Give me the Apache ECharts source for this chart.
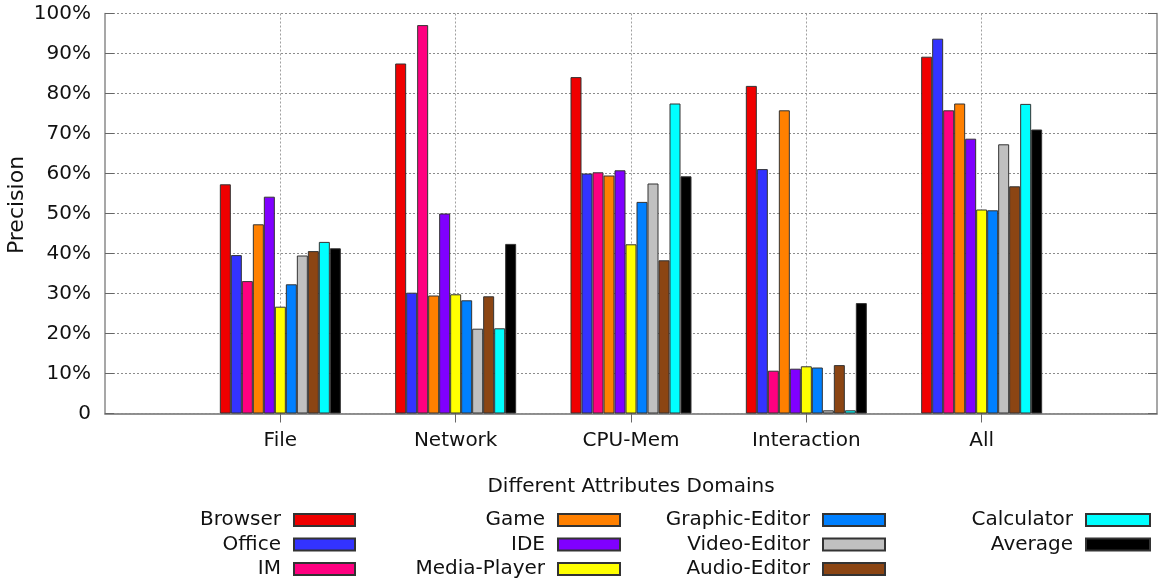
<!DOCTYPE html>
<html>
<head>
<meta charset="utf-8">
<script src="https://cdn.jsdelivr.net/npm/echarts@6/dist/echarts.min.js"></script>
<style>
  html, body { margin: 0; padding: 0; background: #fff; }
  #chart { width: 1160px; height: 583px; }
</style>
</head>
<body>
<div id="chart"></div>
<script>
// Attribute domains on the x axis
const domains = ['File', 'Network', 'CPU-Mem', 'Interaction', 'All'];

// Application groups, in legend order
const seriesNames = ['Browser', 'Office', 'IM', 'Game', 'IDE', 'Media-Player',
  'Graphic-Editor', 'Video-Editor', 'Audio-Editor', 'Calculator', 'Average'];
const seriesColors = ['#f00000', '#3333ff', '#ff0080', '#ff8000', '#8000ff', '#ffff00',
  '#0080ff', '#c0c0c0', '#8b4513', '#00ffff', '#000000'];

// Precision (%) per domain: File, Network, CPU-Mem, Interaction, All
const browser       = [57.3, 87.5, 84.1, 81.9, 89.2];
const office        = [39.6, 30.2, 60.0, 61.1, 93.7];
const im            = [33.1, 97.1, 60.3, 10.7, 75.8];
const game          = [47.3, 29.5, 59.5, 75.8, 77.5];
const ide           = [54.2, 50.0, 60.8, 11.2, 68.7];
const mediaPlayer   = [26.7, 29.8, 42.3, 11.8, 51.0];
const graphicEditor = [32.3, 28.3, 52.9, 11.5, 50.8];
const videoEditor   = [39.5, 21.2, 57.5, 0.8, 67.3];
const audioEditor   = [40.6, 29.3, 38.3, 12.1, 56.8];
const calculator    = [42.9, 21.3, 77.5, 0.8, 77.4];
const average       = [41.3, 42.4, 59.3, 27.6, 71.0];

const yTickLabels = ['0', '10%', '20%', '30%', '40%', '50%', '60%', '70%', '80%', '90%', '100%'];

const seriesValues = [browser, office, im, game, ide, mediaPlayer,
  graphicEditor, videoEditor, audioEditor, calculator, average];

// One empty slot on each side of the domains
const axisCategories = [''].concat(domains, ['']);
const lastSlot = axisCategories.length - 1;

const FONT = 'DejaVu Sans, Verdana, sans-serif';
const frameColor = '#8a8a8a';
const tickStyle = { color: '#666', width: 1 };
const gridDots = { color: '#8c8c8c', width: 1, type: [2, 2] };
const vGridDots = { color: '#a0a0a0', width: 1, type: [2, 2] };

// ticks only at the domain positions, not at the padding slots
const domainTick = (idx) => idx > 0 && idx < lastSlot;

const series = seriesNames.map((name, i) => ({
  name: name,
  type: 'bar',
  xAxisIndex: 0,
  yAxisIndex: 0,
  barWidth: 11,
  barGap: '0%',
  data: ['-'].concat(seriesValues[i], ['-']),
  itemStyle: { color: seriesColors[i], borderColor: '#333', borderWidth: 1 },
  emphasis: { disabled: true },
  animation: false
}));

function legendColumn(names, rightPx, iconW) {
  return {
    orient: 'vertical',
    align: 'right',
    right: rightPx,
    top: 510,
    padding: 0,
    itemWidth: iconW,
    itemHeight: 12,
    itemGap: 4.5,
    icon: 'rect',
    selectedMode: false,
    data: names,
    textStyle: { fontFamily: FONT, fontSize: 20, color: '#111', lineHeight: 20, padding: [0, 8, 0, 0] }
  };
}

const chart = echarts.init(document.getElementById('chart'), null, { renderer: 'canvas' });
chart.setOption({
  animation: false,
  backgroundColor: '#fff',
  textStyle: { fontFamily: FONT },
  grid: { left: 105, top: 13.5, width: 1056, height: 400 },
  legend: [
    legendColumn(seriesNames.slice(0, 3), 804, 61),
    legendColumn(seriesNames.slice(3, 6), 539, 62),
    legendColumn(seriesNames.slice(6, 9), 274, 62),
    legendColumn(seriesNames.slice(9, 11), 9, 64)
  ],
  xAxis: [
    {
      type: 'category',
      data: axisCategories,
      boundaryGap: false,
      position: 'bottom',
      axisLine: { show: true, lineStyle: { color: frameColor, width: 1.5 } },
      axisTick: { show: true, inside: true, length: 9, interval: domainTick, lineStyle: tickStyle },
      axisLabel: { fontFamily: FONT, fontSize: 20, color: '#111', margin: 17 },
      splitLine: { show: true, interval: domainTick, lineStyle: vGridDots },
      name: 'Different Attributes Domains',
      nameLocation: 'middle',
      nameGap: 63,
      nameTextStyle: { fontFamily: FONT, fontSize: 20, color: '#111' }
    },
    {
      type: 'category',
      data: axisCategories,
      boundaryGap: false,
      position: 'top',
      axisLine: { show: true, lineStyle: { color: frameColor, width: 1.5 } },
      axisTick: { show: true, inside: true, length: 9, interval: domainTick, lineStyle: tickStyle },
      axisLabel: { show: false },
      splitLine: { show: false }
    }
  ],
  yAxis: [
    {
      type: 'value',
      min: 0,
      max: 100,
      interval: 10,
      position: 'left',
      axisLine: { show: true, lineStyle: { color: frameColor, width: 1.5 } },
      axisTick: { show: true, inside: true, length: 9, lineStyle: tickStyle },
      axisLabel: {
        fontFamily: FONT, fontSize: 20, color: '#111', margin: 14,
        formatter: v => yTickLabels[Math.round(v / 10)]
      },
      splitLine: { show: true, lineStyle: gridDots }
    },
    {
      type: 'value',
      min: 0,
      max: 100,
      interval: 10,
      position: 'right',
      axisLine: { show: true, lineStyle: { color: frameColor, width: 1.5 } },
      axisTick: { show: true, inside: true, length: 9, lineStyle: tickStyle },
      axisLabel: { show: false },
      splitLine: { show: false }
    }
  ],
  graphic: [
    {
      type: 'text',
      x: 17,
      y: 205,
      rotation: Math.PI / 2,
      style: {
        text: 'Precision',
        fontFamily: FONT,
        fontSize: 22,
        fill: '#111',
        align: 'center',
        verticalAlign: 'middle'
      }
    }
  ],
  series: series
});
</script>
</body>
</html>
